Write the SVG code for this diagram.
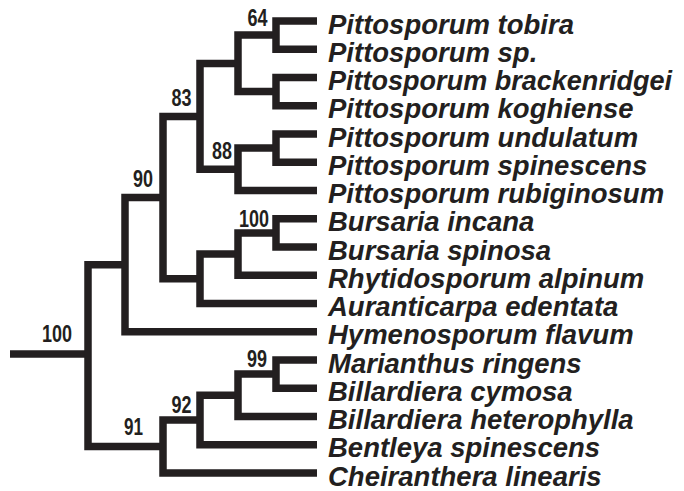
<svg xmlns="http://www.w3.org/2000/svg" width="684" height="491" viewBox="0 0 684 491">
<style>
.br{fill:none;stroke:#231f20;stroke-width:7.5;stroke-linejoin:miter;stroke-linecap:butt}
.tx{font-family:"Liberation Sans",Arial,sans-serif;font-weight:bold;font-style:italic;font-size:27.5px;fill:#231f20}
.sp{font-family:"Liberation Sans",Arial,sans-serif;font-weight:bold;font-size:23px;fill:#231f20;text-anchor:middle}
</style>
<rect width="684" height="491" fill="#fff"/>
<g id="connectors">
<path class="br" d="M10 354H88"/>
<path class="br" d="M125 264.7H88V446.5H163"/>
<path class="br" d="M163 197.6H125V331.75H317"/>
<path class="br" d="M200 116.4H163V278.8H200"/>
<path class="br" d="M238 63.4H200V169.3H238"/>
<path class="br" d="M276 35.1H238V91.6H276"/>
<path class="br" d="M317 21H276V49.25H317"/>
<path class="br" d="M317 77.5H276V105.75H317"/>
<path class="br" d="M276 148.1H238V190.5H317"/>
<path class="br" d="M317 134H276V162.25H317"/>
<path class="br" d="M238 254.1H200V303.5H317"/>
<path class="br" d="M276 232.9H238V275.25H317"/>
<path class="br" d="M317 218.75H276V247H317"/>
<path class="br" d="M200 420H163V473H317"/>
<path class="br" d="M238 395.3H200V444.75H317"/>
<path class="br" d="M276 374.1H238V416.5H317"/>
<path class="br" d="M317 360H276V388.25H317"/>
</g>
<g id="n-root"><text class="sp" x="57" y="342" textLength="30" lengthAdjust="spacingAndGlyphs">100</text></g>
<g id="n-90"><text class="sp" x="143" y="187" textLength="20" lengthAdjust="spacingAndGlyphs">90</text></g>
<g id="n-83"><text class="sp" x="181.5" y="106" textLength="20" lengthAdjust="spacingAndGlyphs">83</text></g>
<g id="n-64"><text class="sp" x="257.5" y="26" textLength="20" lengthAdjust="spacingAndGlyphs">64</text></g>
<g id="n-88"><text class="sp" x="222" y="159" textLength="20" lengthAdjust="spacingAndGlyphs">88</text></g>
<g id="n-100b"><text class="sp" x="254" y="227" textLength="30" lengthAdjust="spacingAndGlyphs">100</text></g>
<g id="n-99"><text class="sp" x="257" y="367" textLength="20" lengthAdjust="spacingAndGlyphs">99</text></g>
<g id="n-92"><text class="sp" x="181.5" y="413" textLength="20" lengthAdjust="spacingAndGlyphs">92</text></g>
<g id="n-91"><text class="sp" x="133.5" y="435" textLength="19" lengthAdjust="spacingAndGlyphs">91</text></g>
<g id="t1"><text class="tx" x="328" y="33.5">Pittosporum tobira</text></g>
<g id="t2"><text class="tx" x="328" y="61.75">Pittosporum sp.</text></g>
<g id="t3"><text class="tx" x="328" y="90" textLength="344" lengthAdjust="spacingAndGlyphs">Pittosporum brackenridgei</text></g>
<g id="t4"><text class="tx" x="328" y="118.25">Pittosporum koghiense</text></g>
<g id="t5"><text class="tx" x="328" y="146.5">Pittosporum undulatum</text></g>
<g id="t6"><text class="tx" x="328" y="174.75">Pittosporum spinescens</text></g>
<g id="t7"><text class="tx" x="328" y="203">Pittosporum rubiginosum</text></g>
<g id="t8"><text class="tx" x="328" y="231.25">Bursaria incana</text></g>
<g id="t9"><text class="tx" x="328" y="259.5">Bursaria spinosa</text></g>
<g id="t10"><text class="tx" x="328" y="287.75">Rhytidosporum alpinum</text></g>
<g id="t11"><text class="tx" x="328" y="316">Auranticarpa edentata</text></g>
<g id="t12"><text class="tx" x="328" y="344.25">Hymenosporum flavum</text></g>
<g id="t13"><text class="tx" x="328" y="372.5">Marianthus ringens</text></g>
<g id="t14"><text class="tx" x="328" y="400.75">Billardiera cymosa</text></g>
<g id="t15"><text class="tx" x="328" y="429">Billardiera heterophylla</text></g>
<g id="t16"><text class="tx" x="328" y="457.25">Bentleya spinescens</text></g>
<g id="t17"><text class="tx" x="328" y="485.5">Cheiranthera linearis</text></g>
</svg>
